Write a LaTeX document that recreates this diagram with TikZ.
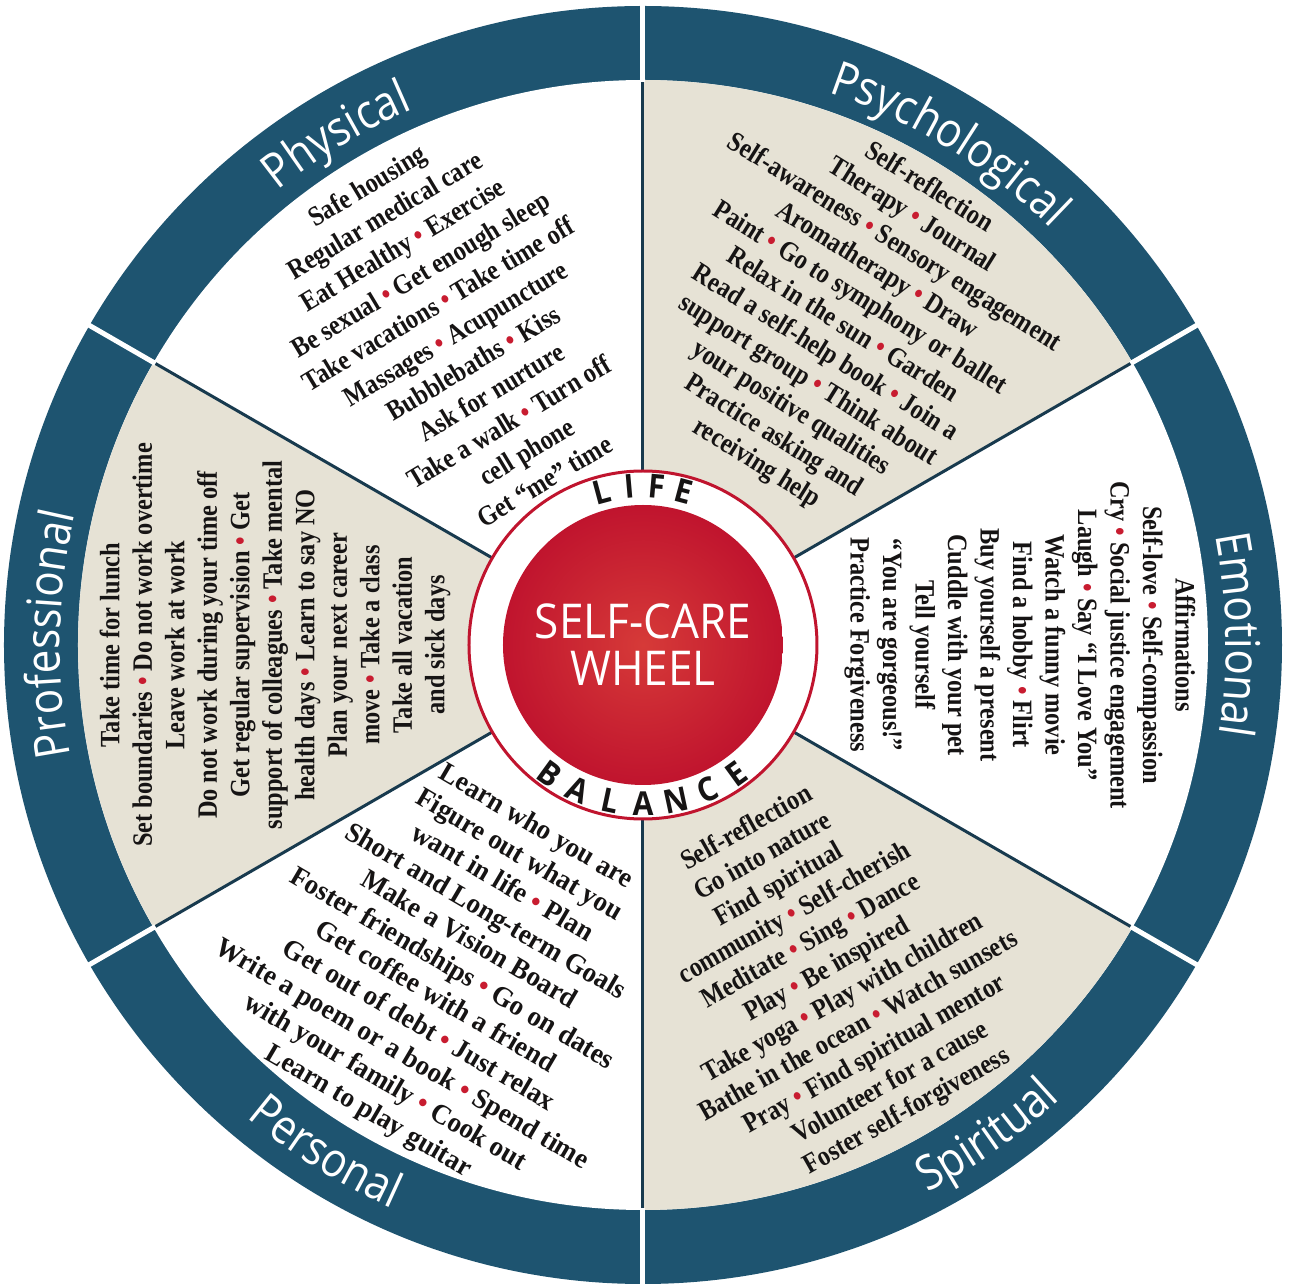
\documentclass[tikz,border=0pt]{standalone}
\usepackage{fontspec}
\usetikzlibrary{decorations.text}
\setmainfont{Liberation Serif}
\newfontfamily\itemfont{Liberation Serif}[FakeStretch=0.87]
\newfontfamily\itemwidefont{Liberation Serif}[FakeStretch=0.97]
\newfontfamily\labelfont{Open Sans}[FakeStretch=0.88]
\newfontfamily\hubfont{Open Sans}[FakeStretch=0.92]
\definecolor{ringblue}{RGB}{30,84,112}
\definecolor{linedark}{RGB}{24,58,78}
\definecolor{sandfill}{RGB}{230,226,213}
\definecolor{dotred}{RGB}{200,28,48}
\definecolor{hubred}{RGB}{192,20,46}
\definecolor{hubredlight}{RGB}{214,58,56}
\definecolor{inkdark}{RGB}{22,20,20}
\newcommand{\sepdot}{\textcolor{dotred}{•}}
\newcommand{\toplabel}[2]{%
  \path[decorate, decoration={text along path, text align=center,
    text={|\labelfont\fontsize{48}{48}\selectfont\color{white}|#2}}]
    ({#1+40}:583) arc[start angle={#1+40}, end angle={#1-40}, radius=583];}
\newcommand{\bottomlabel}[2]{%
  \path[decorate, decoration={text along path, text align=center,
    text={|\labelfont\fontsize{48}{48}\selectfont\color{white}|#2}}]
    ({#1-40}:617) arc[start angle={#1-40}, end angle={#1+40}, radius=617];}
\tikzset{
  itemblock/.style={align=center, inner sep=0pt, text=inkdark,
    font=\itemfont\bfseries\fontsize{28}{32.5}\selectfont},
  ringgap/.style={white, line width=5pt},
  divider/.style={linedark, line width=3pt},
  hubletter/.style={inner sep=0pt, text=inkdark, font=\hubfont\bfseries\fontsize{33}{33}\selectfont},
}
\begin{document}
\begin{tikzpicture}[x=1pt,y=1pt]
\useasboundingbox (-643,-642) rectangle (651,645);
\fill[white] (-643,-642) rectangle (651,645);
% outer ring and sectors
\fill[ringblue] (0,0) circle[radius=639];
\fill[white] (0,0) circle[radius=565];
\foreach \a in {30,-90,150}{
  \fill[sandfill] (0,0) -- (\a:565) arc[start angle=\a, end angle=\a+60, radius=565] -- cycle;
}
\foreach \a in {90,30,-30,-90,-150,150}{
  \draw[divider] (\a:170) -- (\a:566);
  \draw[ringgap] (\a:563) -- (\a:645);
}
% hub
\draw[hubred, line width=3pt, fill=white] (0,0) circle[radius=174];
\shade[inner color=hubredlight, outer color=hubred] (0,0) circle[radius=140];
\node[font=\hubfont\fontsize{48}{47}\selectfont, text=white, align=center, inner sep=0pt] (hub) at (0,0) {SELF-CARE\\WHEEL};
\foreach \ch/\ang [count=\i] in {L/105,I/95,F/85,E/75}
  \node[hubletter, rotate=\ang-90] (life\i) at (\ang:159) {\ch};
\foreach \ch/\ang [count=\i] in {B/234,A/246,L/258,A/270,N/282,C/294,E/306}
  \node[hubletter, rotate=\ang+90] (bal\i) at (\ang:159) {\ch};
% ring labels
\toplabel{121}{Physical}
\toplabel{58.5}{Psychological}
\toplabel{1}{Emotional}
\toplabel{179}{Professional}
\bottomlabel{-55}{Spiritual}
\bottomlabel{238}{Personal}
% sector texts
\node[itemblock, rotate=31, font=\itemfont\bfseries\fontsize{28}{34.5}\selectfont] (physical) at (121:364) {%
Safe housing\\
Regular medical care\\
Eat Healthy \sepdot{} Exercise\\
Be sexual \sepdot{} Get enough sleep\\
Take vacations \sepdot{} Take time off\\
Massages \sepdot{} Acupuncture\\
Bubblebaths \sepdot{} Kiss\\
Ask for nurture\\
Take a walk \sepdot{} Turn off\\
cell phone\\
Get “me” time};
\node[itemblock, rotate=-32] (psychological) at (58:376) {%
Self-reflection\\
Therapy \sepdot{} Journal\\
Self-awareness \sepdot{} Sensory engagement\\
Aromatherapy \sepdot{} Draw\\
Paint \sepdot{} Go to symphony or ballet\\
Relax in the sun \sepdot{} Garden\\
Read a self-help book \sepdot{} Join a\\
support group \sepdot{} Think about\\
your positive qualities\\
Practice asking and\\
receiving help};
\node[itemblock, rotate=-90] (emotional) at (0:377) {%
Affirmations\\
Self-love \sepdot{} Self-compassion\\
Cry \sepdot{} Social justice engagement\\
Laugh \sepdot{} Say “I Love You”\\
Watch a funny movie\\
Find a hobby \sepdot{} Flirt\\
Buy yourself a present\\
Cuddle with your pet\\
Tell yourself\\
“You are gorgeous!”\\
Practice Forgiveness};
\node[itemblock, rotate=29.5] (spiritual) at (-60.5:374) {%
Self-reflection\\
Go into nature\\
Find spiritual\\
community \sepdot{} Self-cherish\\
Meditate \sepdot{} Sing \sepdot{} Dance\\
Play \sepdot{} Be inspired\\
Take yoga \sepdot{} Play with children\\
Bathe in the ocean \sepdot{} Watch sunsets\\
Pray \sepdot{} Find spiritual mentor\\
Volunteer for a cause\\
Foster self-forgiveness};
\node[itemblock, rotate=-30.5, font=\itemwidefont\bfseries\fontsize{28}{33}\selectfont] (personal) at (239.5:377) {%
Learn who you are\\
Figure out what you\\
want in life \sepdot{} Plan\\
Short and Long-term Goals\\
Make a Vision Board\\
Foster friendships \sepdot{} Go on dates\\
Get coffee with a friend\\
Get out of debt \sepdot{} Just relax\\
Write a poem or a book \sepdot{} Spend time\\
with your family \sepdot{} Cook out\\
Learn to play guitar};
\node[itemblock, rotate=90] (professional) at (180:368) {%
Take time for lunch\\
Set boundaries \sepdot{} Do not work overtime\\
Leave work at work\\
Do not work during your time off\\
Get regular supervision \sepdot{} Get\\
support of colleagues \sepdot{} Take mental\\
health days \sepdot{} Learn to say NO\\
Plan your next career\\
move \sepdot{} Take a class\\
Take all vacation\\
and sick days};
\end{tikzpicture}
\end{document}
